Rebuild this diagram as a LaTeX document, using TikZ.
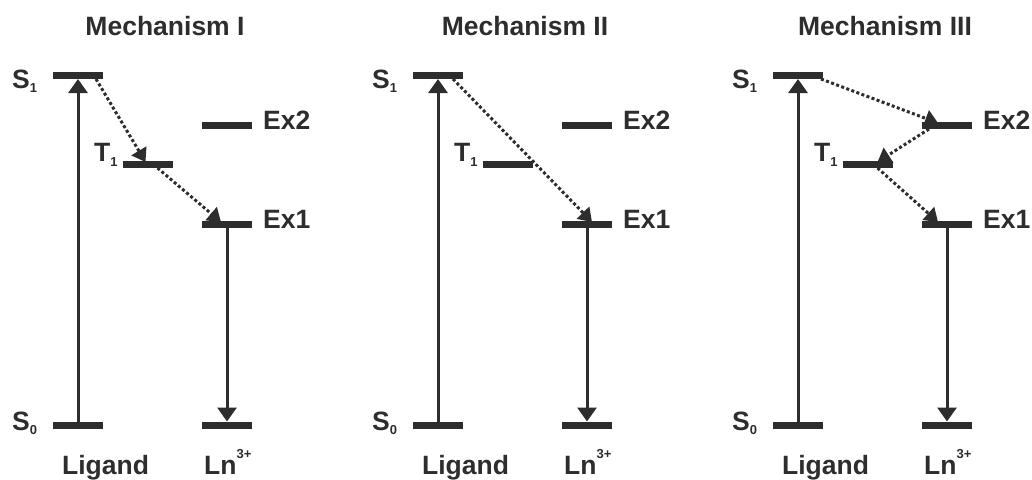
\documentclass[tikz,border=0pt]{standalone}
\usepackage{fontspec}
\setmainfont{Liberation Sans}
\usetikzlibrary{arrows.meta,backgrounds}
\definecolor{ink}{RGB}{45,45,45}
\newcommand\levsub[1]{\raisebox{-4.5pt}{\fontsize{13}{13}\selectfont #1}}
\newcommand\levsup[1]{\raisebox{16pt}{\fontsize{13}{13}\selectfont #1}}
\begin{document}
\begin{tikzpicture}[x=1pt,y=-1pt,
  bar/.style={fill=ink, draw=none, minimum width=50pt, minimum height=7pt, inner sep=0pt, outer sep=0pt},
  lbl/.style={font=\fontsize{26.5}{30}\selectfont\bfseries, text=ink, inner sep=0pt, anchor=base west},
  ttl/.style={font=\fontsize{26.5}{30}\selectfont\bfseries, text=ink, inner sep=0pt, anchor=base},
  trans/.style={draw=ink, line width=3pt, -{Triangle[width=19pt,length=14pt]}},
  hop/.style={draw=ink, line width=3pt, dash pattern=on 3pt off 2.4pt, -{Triangle[width=17pt,length=13pt]}}]
\useasboundingbox (0,0) rectangle (1032,479);

\foreach \dx/\n/\t in {0/a/I,360/b/II,720/c/III}{
  \node[ttl] (title\n) at (165+\dx,35) {Mechanism \t};
  \node[bar] (s1\n) at (78+\dx,75.5) {};
  \node[bar] (s0\n) at (78+\dx,425) {};
  \node[bar] (t1\n) at (147.5+\dx,164.5) {};
  \node[bar] (ex2\n) at (227+\dx,125.5) {};
  \node[bar] (ex1\n) at (227+\dx,224.5) {};
  \node[bar] (ln0\n) at (227+\dx,425) {};
  \node[lbl] (ls1\n) at (12+\dx,88) {S\levsub{1}};
  \node[lbl] (ls0\n) at (12+\dx,430) {S\levsub{0}};
  \node[lbl] (lt1\n) at (94+\dx,161.5) {T\levsub{1}};
  \node[lbl] (lex2\n) at (263+\dx,129.5) {Ex2};
  \node[lbl] (lex1\n) at (263+\dx,228.5) {Ex1};
  \node[ttl] (lig\n) at (105.5+\dx,474) {Ligand};
  \node[lbl] (lln\n) at (204+\dx,474) {Ln\levsup{3+}};
}

\begin{scope}[on background layer]
\foreach \n in {a,b,c}{
  \draw[trans] (s0\n.north) -- (s1\n.south);
  \draw[trans] (ex1\n.south) -- (ln0\n.north);
}
% Mechanism I
\draw[hop] ([xshift=18pt]s1a.south) -- ([xshift=-2pt,yshift=-1pt]t1a.north);
\draw[hop] ([xshift=10pt]t1a.south) -- ([xshift=-6pt,yshift=-1pt]ex1a.north);
% Mechanism II
\draw[hop] ([xshift=15pt]s1b.south) -- ([xshift=5pt,yshift=-1pt]ex1b.north);
% Mechanism III
\draw[hop] ([xshift=-2pt]s1c.south east) -- ([xshift=-9pt,yshift=-1pt]ex2c.north);
\draw[hop] ([xshift=-18pt]ex2c.south) -- ([xshift=10pt,yshift=-1pt]t1c.north);
\draw[hop] ([xshift=10pt]t1c.south) -- ([xshift=-9pt,yshift=-1pt]ex1c.north);
\end{scope}
\end{tikzpicture}
\end{document}
